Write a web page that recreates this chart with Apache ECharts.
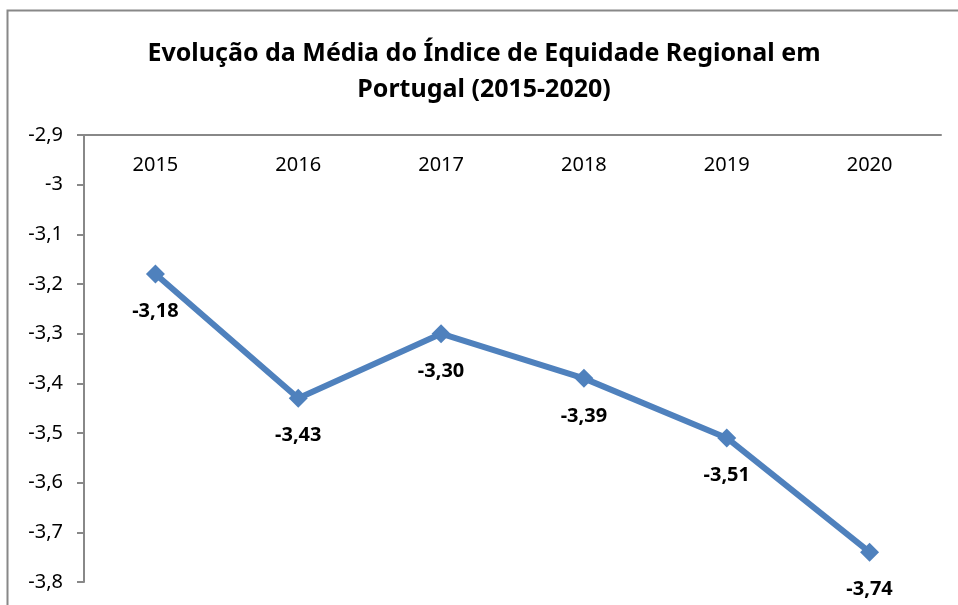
<!DOCTYPE html>
<html>
<head>
<meta charset="utf-8">
<script src="https://cdn.jsdelivr.net/npm/echarts@6/dist/echarts.min.js"></script>
<style>
  html, body { margin: 0; padding: 0; background: #fff; }
  #chart { width: 958px; height: 605px; }
</style>
</head>
<body>
<div id="chart"></div>
<script>
  // dados
  const years = ['2015', '2016', '2017', '2018', '2019', '2020']
  const mediaIER = [-3.18, -3.43, -3.30, -3.39, -3.51, -3.74]
  const yMin = -3.8
  const yMax = -2.9
  const yStep = 0.1

  const fmt = v => String(Math.round(v * 10) / 10).replace('.', ',')
  const font = '"Noto Sans", "DejaVu Sans", sans-serif'

  const chart = echarts.init(document.getElementById('chart'))
  chart.setOption({
    animation: false,
    backgroundColor: '#fff',
    textStyle: { fontFamily: font },
    graphic: [{
      type: 'rect',
      shape: { x: 7.5, y: 10.5, width: 1000, height: 700 },
      style: { fill: 'none', stroke: '#888', lineWidth: 2 },
      silent: true
    }],
    title: {
      text: 'Evolução da Média do Índice de Equidade Regional em\nPortugal (2015-2020)',
      left: 479,
      textAlign: 'center',
      top: 31,
      textStyle: {
        fontFamily: font,
        fontWeight: 'bold',
        fontSize: 25,
        lineHeight: 36,
        color: '#000'
      }
    },
    grid: {
      left: 84,
      right: 17,
      top: 135,
      bottom: 23
    },
    xAxis: {
      type: 'category',
      position: 'top',
      data: years,
      boundaryGap: true,
      axisLine: { lineStyle: { color: '#888', width: 2 } },
      axisTick: { inside: true, length: 6, lineStyle: { color: '#888', width: 2 } },
      axisLabel: {
        inside: true,
        margin: 20,
        fontSize: 20,
        color: '#000',
        fontFamily: font
      },
      splitLine: { show: false }
    },
    yAxis: {
      type: 'value',
      min: yMin,
      max: yMax,
      interval: yStep,
      axisLine: { show: true, lineStyle: { color: '#888', width: 2 } },
      axisTick: { show: true, length: 7, lineStyle: { color: '#888', width: 2 } },
      axisLabel: {
        margin: 21,
        fontSize: 20,
        color: '#000',
        fontFamily: font,
        formatter: fmt
      },
      splitLine: { show: false }
    },
    series: [{
      type: 'line',
      data: mediaIER,
      symbol: 'diamond',
      symbolSize: 19,
      lineStyle: { color: '#4f81bd', width: 6 },
      itemStyle: { color: '#4f81bd' },
      label: {
        show: true,
        position: 'bottom',
        distance: 18,
        fontSize: 20,
        fontWeight: 'bold',
        color: '#000',
        fontFamily: font,
        formatter: p => p.value.toFixed(2).replace('.', ',')
      }
    }]
  })
</script>
</body>
</html>
